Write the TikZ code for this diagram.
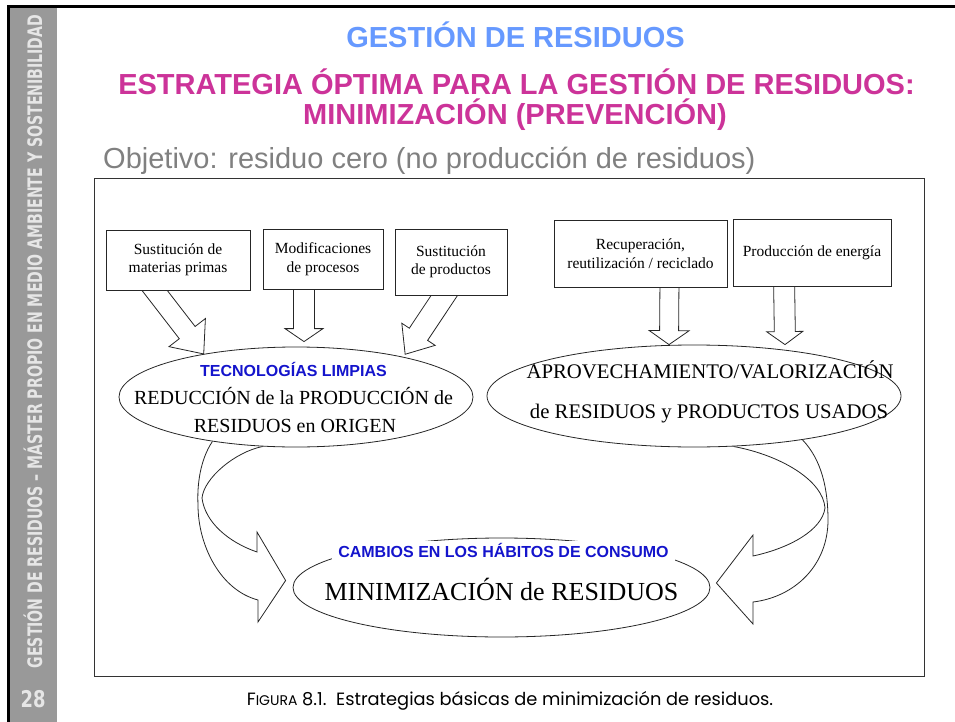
\documentclass[tikz,border=0pt]{standalone}
\usepackage{fontspec}
\usepackage{tikz}
\usetikzlibrary{calc,shapes.geometric,backgrounds}
\setmainfont{Liberation Serif}
\newfontfamily\arialfont{Liberation Sans}
\newfontfamily\sidefont{DejaVu Sans}
\newfontfamily\captionfont{Poppins}

\definecolor{titleblue}{RGB}{102,153,255}
\definecolor{titlepink}{RGB}{204,51,153}
\definecolor{goalgrey}{RGB}{128,128,128}
\definecolor{labelblue}{RGB}{20,20,204}
\definecolor{sidegrey}{RGB}{153,153,153}
\definecolor{sidetext}{RGB}{230,230,230}

\tikzset{
  box/.style={draw=black!85, line width=0.8pt, fill=white, align=center, inner sep=0pt,
    font=\fontsize{15.5pt}{18.5pt}\selectfont},
  bigell/.style={ellipse, draw=black!85, line width=0.8pt, fill=white, inner sep=0pt},
  blockline/.style={draw=black!85, line width=0.8pt, line join=miter},
  bandline/.style={draw=black!85, line width=0.8pt},
  bluelabel/.style={anchor=base, inner sep=0pt, text=labelblue,
    font=\arialfont\bfseries\fontsize{16pt}{18pt}\selectfont},
  titletext/.style={anchor=base, inner sep=0pt, font=\arialfont\bfseries\fontsize{29pt}{30pt}\selectfont},
}

% hollow block arrow: start, tip, shaft half width, head half width, head length
\newcommand{\hollowarrow}[5]{%
  \coordinate (hbase) at ($(#2)!#5!(#1)$);
  \draw[blockline] ($(#1)!#3!90:(#2)$) -- ($(hbase)!#3!90:(#2)$) -- ($(hbase)!#4!90:(#2)$)
    -- (#2) -- ($(hbase)!#4!-90:(#2)$) -- ($(hbase)!#3!-90:(#2)$) -- ($(#1)!#3!-90:(#2)$);
}

\begin{document}
\begin{tikzpicture}[x=1pt,y=-1pt]
\useasboundingbox (0,0) rectangle (955,722);

% Side band
\fill[sidegrey] (9,8) rectangle (57,722);
\draw[line width=3pt] (8,722) -- (8,6.5) -- (955,6.5);
\node[rotate=90, inner sep=0pt, text=sidetext, font=\sidefont\fontsize{20pt}{20pt}\selectfont\bfseries] (side) at (33,341.5)
  {\scalebox{0.705}[1]{GESTIÓN DE RESIDUOS – MÁSTER PROPIO EN MEDIO AMBIENTE Y SOSTENIBILIDAD}};
\node[inner sep=0pt, text=sidetext, font=\sidefont\fontsize{23pt}{23pt}\selectfont\bfseries] (page) at (33,699)
  {\scalebox{0.78}[1]{28}};

% Titles
\node[titletext, text=titleblue] (title) at (515.5,48) {GESTIÓN DE RESIDUOS};
\node[titletext, text=titlepink] (sub1) at (516.5,95) {ESTRATEGIA ÓPTIMA PARA LA GESTIÓN DE RESIDUOS:};
\node[titletext, text=titlepink] (sub2) at (515,125) {MINIMIZACIÓN (PREVENCIÓN)};
\node[anchor=base west, inner sep=0pt, text=goalgrey, font=\arialfont\fontsize{29pt}{30pt}\selectfont] (goal) at (103,168)
  {Objetivo: residuo cero (no producción de residuos)};

% Figure frame
\draw[line width=1pt, black!80] (94,179) rectangle (924,676);

% Boxes
\node[box, minimum width=144pt, minimum height=60pt] (box1) at (178,260) {Sustitución de\\materias primas};
\node[box, minimum width=120pt, minimum height=60pt] (box2) at (323,259) {Modificaciones\\de procesos};
\node[box, minimum width=112pt, minimum height=66pt] (box3) at (451,262) {Sustitución\\de productos};
\node[box, minimum width=173pt, minimum height=67pt] (box4) at (640.5,253.5) {Recuperación,\\reutilización / reciclado};
\node[box, minimum width=158pt, minimum height=67pt] (box5) at (812,252.5) {Producción de energía};

% Ellipses
\node[bigell, minimum width=354pt, minimum height=100pt] (ell1) at (296,397) {};
\node[bigell, minimum width=414pt, minimum height=102pt] (ell2) at (694,396) {};
\node[bigell, minimum width=417pt, minimum height=99pt] (ell3) at (501.5,587.5) {};

% Ellipse texts
\node[bluelabel] (clean) at (293.5,376) {TECNOLOGÍAS LIMPIAS};
\node[anchor=base, inner sep=0pt, font=\fontsize{20pt}{24pt}\selectfont] (redA) at (293.5,404) {REDUCCIÓN de la PRODUCCIÓN de};
\node[anchor=base, inner sep=0pt, font=\fontsize{20pt}{24pt}\selectfont] (redB) at (295,432) {RESIDUOS en ORIGEN};
\node[anchor=base, inner sep=0pt, font=\fontsize{20.75pt}{24pt}\selectfont] (aprA) at (710,378) {APROVECHAMIENTO/VALORIZACIÓN};
\node[anchor=base, inner sep=0pt, font=\fontsize{20.75pt}{24pt}\selectfont] (aprB) at (709,418) {de RESIDUOS y PRODUCTOS USADOS};
\node[bluelabel, fill=white, inner xsep=6pt, text height=17pt, text depth=6pt] (habits) at (503.5,557.5) {CAMBIOS EN LOS HÁBITOS DE CONSUMO};
\node[anchor=base, inner sep=0pt, font=\fontsize{26pt}{30pt}\selectfont] (minT) at (501.5,600) {MINIMIZACIÓN de RESIDUOS};

% Caption
\node[anchor=base, inner sep=0pt, font=\captionfont\fontsize{17.8pt}{20pt}\selectfont] (caption) at (510,705)
  {F{\fontsize{14pt}{16pt}\selectfont IGURA} 8.1.\ \ Estrategias básicas de minimización de residuos.};

\begin{scope}[on background layer]
% Block arrows into the ellipses
\coordinate (a1s) at ([xshift=-35pt,yshift=15pt]box1.south);
\coordinate (a1t) at (ell1.155);
\hollowarrow{a1s}{a1t}{10pt}{23pt}{27pt}
\coordinate (a2s) at ([xshift=-19pt,yshift=10pt]box2.south);
\coordinate (a2t) at ([xshift=8pt,yshift=5pt]ell1.north);
\hollowarrow{a2s}{a2t}{10.5pt}{19pt}{13pt}
\coordinate (a3s) at ([xshift=4pt,yshift=16pt]box3.south);
\coordinate (a3t) at ([yshift=3pt]ell1.20);
\hollowarrow{a3s}{a3t}{11pt}{20pt}{24pt}
\coordinate (a4s) at ([xshift=29pt,yshift=10pt]box4.south);
\coordinate (a4t) at ([xshift=-25pt]ell2.north);
\hollowarrow{a4s}{a4t}{9.5pt}{20pt}{14pt}
\coordinate (a5s) at ([xshift=-28pt,yshift=10pt]box5.south);
\coordinate (a5t) at ([xshift=91pt]ell2.north);
\hollowarrow{a5s}{a5t}{10.5pt}{18pt}{13pt}

% Curved bands into the minimisation ellipse
\coordinate (ltip) at ([xshift=-7pt,yshift=7pt]ell3.west);
\draw[bandline] (ell1.208) .. controls (200,460) and (197,485) .. (198,505)
  .. controls (198,545) and (220,590) .. (258,600) -- (258,622) -- (ltip) -- (257,532) -- (257,552)
  .. controls (228,542) and (205,522) .. (202,498)
  .. controls (204,478) and (235,452) .. (ell1.236);
\coordinate (rtip) at ([xshift=6pt,yshift=4.5pt]ell3.east);
\draw[bandline] (ell2.338) .. controls (822,460) and (828,490) .. (828,520)
  .. controls (828,565) and (795,597) .. (753,602) -- (753,624) -- (rtip) -- (753,535) -- (753,556)
  .. controls (790,548) and (822,530) .. (825,508)
  .. controls (823,480) and (780,455) .. (ell2.308);
\end{scope}
\end{tikzpicture}
\end{document}
